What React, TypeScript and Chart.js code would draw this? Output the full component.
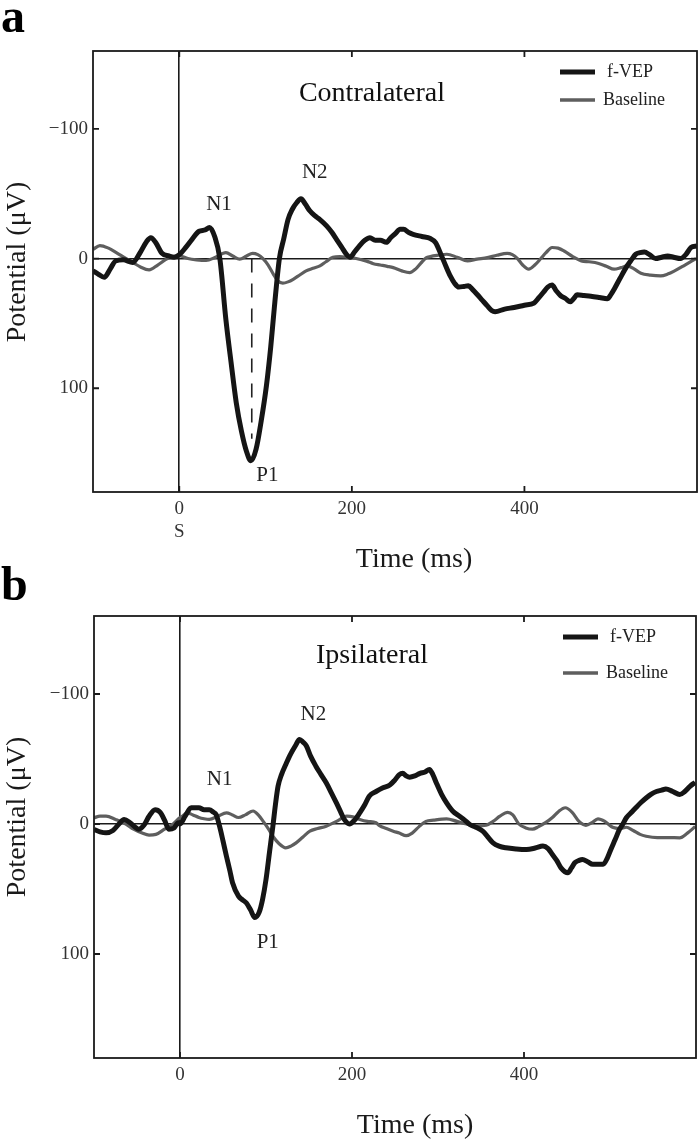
import React, { useEffect, useRef } from 'react';
import { Chart, registerables } from 'chart.js';

Chart.register(...registerables);

const FONT = '"Liberation Serif", "Times New Roman", serif';

// ---- axis ticks ----
const xTickValues = [0, 200, 400];
const yTickValues = [-100, 0, 100];

// ---- panel a: Contralateral ----
const contraFvepTimes = [-100,-94,-87,-80,-74,-65,-54,-45,-38,-33,-27,-20,-12,-6,0,8,15,23,30,35,41,47,54,60,66,72,78,83,89,95,101,106,110,116,121,126,131,136,141,146,151,157,163,171,177,182,188,194,198,203,209,215,221,227,233,240,245,250,256,260,266,271,281,291,297,304,309,314,319,324,330,335,340,345,351,357,362,366,377,388,400,411,417,422,427,432,437,442,448,453,457,461,469,477,487,496,500,504,511,519,524,529,534,539,545,552,559,566,573,581,587,593,600];
const contraFvepValues = [9.5,12,14.5,8,2,1,3,-5,-13,-16,-12,-4,-2,-1,-3,-9,-15,-21,-22,-24,-17,0,47,80,111,133,149,156,147,125,98,68,39,0,-15,-30,-38,-43,-46,-42,-37,-33,-30,-25,-20,-15,-9,-3,-1,-5,-10,-14,-16,-14,-14,-12.5,-16,-19,-22.5,-22.5,-20,-18.7,-17,-15.4,-12.3,-2,6,13.4,19,22,21.5,21,24,27.5,32,36.5,40,41,39,37.7,36,34.4,30,26,22,20.5,25,28.7,31,33.4,31,28,28.5,29,30,31,28,23.6,15,5.7,1,-3.3,-4.5,-5,-3,0,-1,-2,-1,0,-3,-8.5,-9.7];
const contraBaseTimes = [-100,-92,-82,-73,-63,-54,-45,-35,-25,-15,-7,0,10,20,31,42,54,62,70,78,85,91,97,103,109,114,120,126,132,140,147,155,163,170,178,186,194,205,217,225,233,241,248,258,267,274,280,286,291,300,310,322,334,345,357,368,380,386,392,398,405,412,419,425,432,439,446,456,466,475,485,495,504,512,519,527,535,546,558,566,574,586,599];
const contraBaseValues = [-7,-10,-8,-4.6,-0.5,3,6.5,8.7,5,0.5,-1.5,-2,0,1,1.5,-1,-4.6,-2,0.5,-2,-4,-3,0,5,12,17,19,18,16,12.5,9.5,7.5,5.7,2.5,-1,-1.5,-1,0,2,4,5,6,7,9.5,10.8,8,3.5,-0.5,-1.5,-2.5,-3.3,-1,1.8,0.5,-0.7,-2.5,-4,-3,0,5,8.2,5,0,-4.5,-8.5,-8,-5.8,-1.5,1.8,2.5,3.6,6,8.2,7,5.7,8,11.3,12.8,13.4,12,9.5,5,0];
const p1MarkerTimes = [84, 84];
const p1MarkerValues = [0, 139];
const contraPeakNames = ['N1', 'N2', 'P1'];
const contraPeakTimes = [46, 157, 102];
const contraPeakValues = [-42, -66, 167];

// ---- panel b: Ipsilateral ----
const ipsiFvepTimes = [-100,-93,-86,-78,-71,-65,-58,-52,-48,-42,-36,-29,-23,-18,-13,-7,-2,0,6,13,22,28,34,39,42,46,50,54,58,61,68,73,77,82,87,92,96,100,104,108,111,114,118,123,128,134,139,143,147,152,158,164,170,176,182,187,191,197,203,209,215,220,228,236,244,250,255,259,263,267,273,279,285,290,294,298,304,310,317,325,331,337,344,352,358,364,371,379,391,403,413,422,428,433,438,443,451,455,459,464,468,474,480,486,492,497,501,506,511,515,519,525,530,536,542,548,554,560,565,573,581,587,593,599];
const ipsiFvepValues = [4.2,6,6.8,5,0,-3.5,-1,2.5,4,1,-6,-11,-9,-3,4,3,-1,0,-6,-12.5,-12.5,-11,-11,-9,-7.3,1.7,13,24.8,36,45,55.5,58.5,60.6,66,72,68,58,42.7,22,1.7,-15,-29,-38,-45.8,-53,-60,-65,-63,-60,-52,-44.5,-38,-31.7,-24,-16,-9,-3.5,0,-3,-8.6,-15,-21.4,-25,-27.8,-30,-34,-38,-39,-37,-36,-37,-39,-40,-42,-38,-31.7,-23,-16.3,-10,-6,-3,0.4,2.5,5.5,10,14.5,17,18.3,19.2,19.6,18.5,17,19,23.5,28,33.7,37.5,34,29.8,28,27.3,29,31,31,31,26,19.6,12,4.2,0,-4.8,-9,-12.5,-16.5,-20,-23,-25,-26,-27,-25,-22.7,-25,-29,-32];
const ipsiBaseTimes = [-100,-93,-86,-75,-63,-54,-44,-36,-28,-18,-8,0,3,8,15,22,28,34,44,54,61,68,76,85,91,97,103,108,115,123,129,135,143,151,160,170,182,194,201,209,218,228,232,240,248,255,263,270,278,286,295,310,322,333,345,356,364,372,381,387,394,402,410,417,425,433,440,448,456,464,472,479,486,494,503,511,519,527,535,542,555,568,581,590,599];
const ipsiBaseValues = [-4.8,-6,-6,-3.5,0,4,7,8.5,8,4,0,-5,-6,-8.6,-7,-5,-4,-3.5,-6,-8.6,-7,-5,-7,-10,-7,-1.8,4,9.4,15,18.3,17,14.5,10,5.5,3.5,1.7,-2,-6,-5.5,-3.5,-2,-1,1.3,3.5,5.5,7,9,7,2,-2,-3,-4,-2,0,1.5,1,-2,-6,-9,-7,0,3,4,2,-1,-5,-9.5,-12.5,-9,-2,1,-1,-4,-2,2.5,3.5,2.5,5,8,9.4,10.5,10.5,10.6,7,2];
const ipsiPeakNames = ['N1', 'N2', 'P1'];
const ipsiPeakTimes = [46, 155, 102];
const ipsiPeakValues = [-34, -84, 91];

const seriesNames = ['f-VEP', 'Baseline'];

type PanelSpec = {
  letter: string;
  title: string;
  fvepT: number[];
  fvepV: number[];
  baseT: number[];
  baseV: number[];
  peakNames: string[];
  peakT: number[];
  peakV: number[];
  markerT?: number[];
  markerV?: number[];
  zeroSub?: string;
  top: number;
  height: number;
  padLeft: number;
  padRight: number;
  padBottom: number;
  titleDx: number;
  titleDy: number;
  legendDy: [number, number];
  legendX: number;
  yTitleDy: number;
  letterY: number;
};

const panels: PanelSpec[] = [
  {
    letter: 'a', title: 'Contralateral',
    fvepT: contraFvepTimes, fvepV: contraFvepValues,
    baseT: contraBaseTimes, baseV: contraBaseValues,
    peakNames: contraPeakNames, peakT: contraPeakTimes, peakV: contraPeakValues,
    markerT: p1MarkerTimes, markerV: p1MarkerValues, zeroSub: 'S',
    top: 0, height: 585, padLeft: 0, padRight: 3, padBottom: 33,
    titleDx: 279, titleDy: 43, legendDy: [21, 49], legendX: 467, yTitleDy: 211, letterY: 32,
  },
  {
    letter: 'b', title: 'Ipsilateral',
    fvepT: ipsiFvepTimes, fvepV: ipsiFvepValues,
    baseT: ipsiBaseTimes, baseV: ipsiBaseValues,
    peakNames: ipsiPeakNames, peakT: ipsiPeakTimes, peakV: ipsiPeakValues,
    top: 565, height: 578, padLeft: 1, padRight: 4, padBottom: 25,
    titleDx: 278, titleDy: 40, legendDy: [21, 57], legendX: 469, yTitleDy: 201, letterY: 35,
  },
];

const zip = (t: number[], v: number[]) => t.map((x, i) => ({ x, y: v[i] }));

function makeOverlay(p: PanelSpec) {
  return {
    id: 'overlay_' + p.letter,
    afterDraw(chart: any) {
      const { ctx, chartArea: ca, scales } = chart;
      const xs = scales.x;
      const ys = scales.y;
      ctx.save();
      // frame
      ctx.strokeStyle = '#1a1a1a';
      ctx.lineWidth = 1.8;
      ctx.strokeRect(ca.left, ca.top, ca.right - ca.left, ca.bottom - ca.top);
      // inward tick marks
      ctx.beginPath();
      for (const v of yTickValues) {
        const py = ys.getPixelForValue(v);
        ctx.moveTo(ca.left, py); ctx.lineTo(ca.left + 6, py);
        ctx.moveTo(ca.right, py); ctx.lineTo(ca.right - 6, py);
      }
      for (const t of xTickValues) {
        const px = xs.getPixelForValue(t);
        ctx.moveTo(px, ca.bottom); ctx.lineTo(px, ca.bottom - 6);
        ctx.moveTo(px, ca.top); ctx.lineTo(px, ca.top + 6);
      }
      ctx.stroke();

      // peak labels
      ctx.fillStyle = '#222';
      ctx.textAlign = 'center';
      ctx.textBaseline = 'middle';
      ctx.font = `21px ${FONT}`;
      p.peakNames.forEach((n, i) => {
        ctx.fillText(n, xs.getPixelForValue(p.peakT[i]), ys.getPixelForValue(p.peakV[i]));
      });

      // panel title
      ctx.font = `28px ${FONT}`;
      ctx.fillStyle = '#111';
      ctx.fillText(p.title, ca.left + p.titleDx, ca.top + p.titleDy);

      // legend
      const ds = chart.data.datasets;
      const lx = ca.left + p.legendX;
      [0, 1].forEach((i) => {
        const ly = ca.top + p.legendDy[i];
        ctx.strokeStyle = ds[i].borderColor;
        ctx.lineWidth = i === 0 ? 5 : 3.5;
        ctx.beginPath();
        ctx.moveTo(lx, ly);
        ctx.lineTo(lx + 35, ly);
        ctx.stroke();
        ctx.font = `18px ${FONT}`;
        ctx.fillStyle = '#222';
        ctx.textAlign = 'left';
        ctx.fillText(ds[i].label, lx + (i === 0 ? 47 : 43), ly);
      });

      // axis titles
      ctx.fillStyle = '#1a1a1a';
      ctx.font = `28px ${FONT}`;
      ctx.textAlign = 'center';
      ctx.fillText('Time (ms)', ca.left + 321, ca.bottom + 68);
      ctx.save();
      ctx.translate(18, ca.top + p.yTitleDy);
      ctx.rotate(-Math.PI / 2);
      ctx.fillText('Potential (\u03bcV)', 0, 0);
      ctx.restore();

      // panel letter
      ctx.font = `bold 48px ${FONT}`;
      ctx.textAlign = 'left';
      ctx.textBaseline = 'alphabetic';
      ctx.fillStyle = '#000';
      ctx.fillText(p.letter, 1, p.letterY);
      ctx.restore();
    },
  };
}

function Panel({ p }: { p: PanelSpec }) {
  const ref = useRef<HTMLCanvasElement | null>(null);
  useEffect(() => {
    if (!ref.current) return;
    const datasets: any[] = [
      {
        label: seriesNames[0], data: zip(p.fvepT, p.fvepV),
        borderColor: '#151515', borderWidth: 5, pointRadius: 0,
        cubicInterpolationMode: 'monotone', order: 0,
      },
      {
        label: seriesNames[1], data: zip(p.baseT, p.baseV),
        borderColor: '#5e5e5e', borderWidth: 3.2, pointRadius: 0,
        cubicInterpolationMode: 'monotone', order: 1,
      },
    ];
    if (p.markerT && p.markerV) {
      datasets.push({
        label: 'P1 latency', data: zip(p.markerT, p.markerV),
        borderColor: '#222', borderWidth: 1.6, borderDash: [14, 11],
        pointRadius: 0, order: 2,
      });
    }
    const zeroColor = (c: any) => (c.tick && c.tick.value === 0 ? '#1a1a1a' : 'rgba(0,0,0,0)');
    const chart = new Chart(ref.current, {
      type: 'line',
      data: { datasets },
      options: {
        responsive: false,
        animation: false,
        events: [],
        layout: { padding: { top: 51, left: p.padLeft, right: p.padRight, bottom: p.padBottom } },
        plugins: { legend: { display: false }, tooltip: { enabled: false }, title: { display: false } },
        scales: {
          x: {
            type: 'linear', min: -100, max: 600,
            afterBuildTicks: (s: any) => { s.ticks = xTickValues.map((value) => ({ value })); },
            afterFit: (s: any) => { s.height = 60; },
            grid: { drawTicks: false, color: zeroColor, lineWidth: 1.6 },
            border: { display: false },
            ticks: {
              padding: 6, autoSkip: false, maxRotation: 0, color: '#333',
              font: { family: FONT, size: 19 },
              callback: (v: any) => (v === 0 && p.zeroSub ? ['0', p.zeroSub] : String(v)),
            },
          },
          y: {
            type: 'linear', min: -160, max: 180, reverse: true,
            afterBuildTicks: (s: any) => { s.ticks = yTickValues.map((value) => ({ value })); },
            afterFit: (s: any) => { s.width = 93; },
            grid: { drawTicks: false, color: zeroColor, lineWidth: 1.6 },
            border: { display: false },
            ticks: {
              padding: 5, color: '#333',
              font: { family: FONT, size: 19 },
              callback: (v: any) => (v < 0 ? '\u2212' + Math.abs(v) : String(v)),
            },
          },
        },
      } as any,
      plugins: [makeOverlay(p)],
    });
    return () => chart.destroy();
  }, [p]);
  return (
    <canvas
      ref={ref}
      width={700}
      height={p.height}
      style={{ position: 'absolute', left: 0, top: p.top, width: 700, height: p.height, display: 'block' }}
    />
  );
}

export default function App() {
  return (
    <div style={{ position: 'absolute', left: 0, top: 0, width: 700, height: 1143, background: '#fff', overflow: 'hidden' }}>
      {panels.map((p) => (
        <Panel key={p.letter} p={p} />
      ))}
    </div>
  );
}
